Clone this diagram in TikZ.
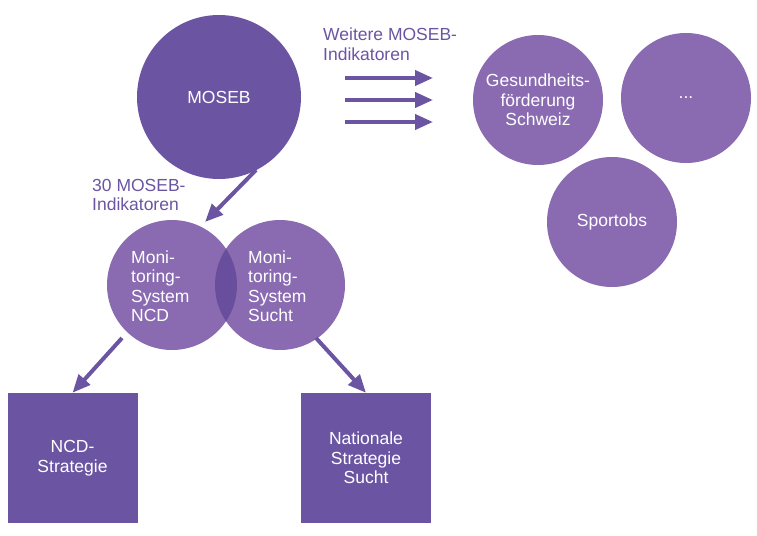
\documentclass[tikz,border=0pt]{standalone}
\usepackage{fontspec}
\setmainfont{Liberation Sans}
\usetikzlibrary{arrows.meta, positioning, calc}
\definecolor{darkviolet}{HTML}{6B55A3}
\definecolor{lightviolet}{HTML}{8A6BB1}
\definecolor{overlapviolet}{HTML}{6A4E9E}
\tikzset{
	bigcircle/.style={circle, fill=darkviolet, text=white, minimum size=164pt, align=center, inner sep=0pt},
	partner/.style={circle, fill=lightviolet, text=white, minimum size=130pt, align=center, inner sep=0pt},
	strategy/.style={rectangle, fill=darkviolet, text=white, minimum width=130pt, minimum height=130pt, align=center, inner sep=0pt},
	label/.style={text=darkviolet, align=left, inner sep=0pt},
	arr/.style={draw=darkviolet, line width=4pt, -{Triangle[length=18pt, width=15pt]}}
}

\begin{document}
\begin{tikzpicture}[x=1pt, y=-1pt,
        font=\fontsize{17.5}{19.5}\selectfont
    ]
        \useasboundingbox (0,0) rectangle (757,535);

        \node[bigcircle] (moseb) at (219, 97) {MOSEB};
        \node[partner] (gfs) at (538, 100) {Gesundheits-\\förderung\\Schweiz};
        \node[partner] (dots) at (686, 98) {...};
        \node[partner] (sportobs) at (612, 222) {Sportobs};

        \node[partner] (ncd) at (172, 285) {};
        \node[partner] (sucht) at (280, 285) {};
        \begin{scope}
            \clip (172, 285) circle (65);
            \fill[overlapviolet] (280, 285) circle (65);
        \end{scope}
        \node[text=white, align=left, anchor=west, inner sep=0pt] (ncdtext) at (131, 286) {Moni-\\toring-\\System\\NCD};
        \node[text=white, align=left, anchor=west, inner sep=0pt] (suchttext) at (248, 286) {Moni-\\toring-\\System\\Sucht};

        \node[strategy] (ncdstrat) at (72.5, 458) {NCD-\\Strategie};
        \node[strategy] (suchtstrat) at (366, 458) {Nationale\\Strategie\\Sucht};

        \node[label, anchor=north west] (weitere) at (323, 28) {Weitere MOSEB-\\Indikatoren};
        \node[label, anchor=north west] (dreissig) at (92, 179) {30 MOSEB-\\Indikatoren};

        % Pfeile zu weiteren Partnern
        \foreach \y in {78, 100, 122}
            \draw[arr] (345, \y) -- (433, \y);

        \coordinate (mout) at (256, 170);
        \coordinate (min) at (205, 222);
        \coordinate (nout) at (122, 338);
        \coordinate (sout) at (316, 338);

        \draw[arr] (mout) -- (min);
        \draw[arr] (nout) -- (ncdstrat.north);
        \draw[arr] (sout) -- (suchtstrat.north);
    \end{tikzpicture}
\end{document}
